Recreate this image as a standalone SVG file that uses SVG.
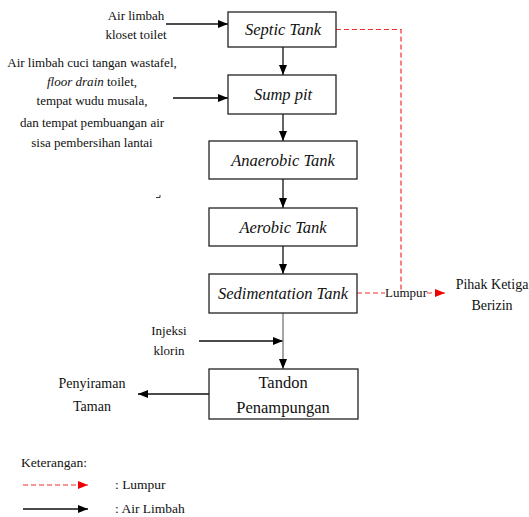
<svg xmlns="http://www.w3.org/2000/svg" width="529" height="517" viewBox="0 0 529 517">
<defs>
<marker id="ab" viewBox="0 0 10 10" refX="10" refY="5" markerWidth="10" markerHeight="10" markerUnits="userSpaceOnUse" orient="auto"><path d="M0,1 L10,5 L0,9 Z" fill="#000"/></marker>
<marker id="ar" viewBox="0 0 10 10" refX="10" refY="5" markerWidth="10" markerHeight="10" markerUnits="userSpaceOnUse" orient="auto"><path d="M0,1 L10,5 L0,9 Z" fill="#f00000"/></marker>
</defs>
<g id="connectors" fill="none">
<g stroke="#111" stroke-width="1.3">
<path d="M166,24 H228" marker-end="url(#ab)"/>
<path d="M173,98 H228" marker-end="url(#ab)"/>
<path d="M283,47 V75" marker-end="url(#ab)"/>
<path d="M283,114 V141" marker-end="url(#ab)"/>
<path d="M283,179 V208" marker-end="url(#ab)"/>
<path d="M283,246 V274" marker-end="url(#ab)"/>
<path d="M199,341 H283" marker-end="url(#ab)"/>
<path d="M209,394 H138" marker-end="url(#ab)"/>
</g>
<path d="M283,313 V369" stroke="#888" stroke-width="1.5" marker-end="url(#ab)"/>
<g stroke="#f03030" stroke-width="1.2" stroke-dasharray="5,3">
<path d="M336,29.5 H401 V293"/>
<path d="M357,293 H385"/>
<path d="M427,293 H445" marker-end="url(#ar)"/>
</g>
</g>
<g fill="#fff" stroke="#222" stroke-width="1.3">
<rect id="septic-box" x="228" y="12" width="108" height="35"/>
<rect id="sump-box" x="228" y="75" width="108" height="39"/>
<rect id="anaerobic-box" x="209" y="141" width="148" height="38"/>
<rect id="aerobic-box" x="209" y="208" width="148" height="38"/>
<rect id="sedimentation-box" x="209" y="274" width="148" height="39"/>
<rect id="tandon-box" x="209" y="369" width="149" height="50"/>
</g>
<g fill="#111" text-anchor="middle">
<g id="septic"><text font-family="Liberation Serif" font-size="20" font-style="italic" transform="translate(283,35) scale(0.825)">Septic Tank</text></g>
<g id="sump"><text font-family="Liberation Serif" font-size="20" font-style="italic" transform="translate(283,100) scale(0.825)">Sump pit</text></g>
<g id="anaerobic"><text font-family="Liberation Serif" font-size="20" font-style="italic" transform="translate(283,166) scale(0.825)">Anaerobic Tank</text></g>
<g id="aerobic"><text font-family="Liberation Serif" font-size="20" font-style="italic" transform="translate(283,233) scale(0.825)">Aerobic Tank</text></g>
<g id="sedimentation"><text font-family="Liberation Serif" font-size="20" font-style="italic" transform="translate(283,299) scale(0.825)">Sedimentation Tank</text></g>
<g id="tandon"><text font-family="Liberation Serif" font-size="20" transform="translate(283,388) scale(0.825)">Tandon</text><text font-family="Liberation Serif" font-size="20" transform="translate(283,413) scale(0.825)">Penampungan</text></g>
<g id="input1"><text font-family="Liberation Serif" font-size="14" transform="translate(136,20) scale(0.93)">Air limbah</text><text font-family="Liberation Serif" font-size="14" transform="translate(136,39) scale(0.93)">kloset toilet</text></g>
<g id="input2">
<text font-family="Liberation Serif" font-size="14" transform="translate(92,67) scale(0.93)">Air limbah cuci tangan wastafel,</text>
<text font-family="Liberation Serif" font-size="14" transform="translate(92,86) scale(0.93)"><tspan font-style="italic">floor drain</tspan> toilet,</text>
<text font-family="Liberation Serif" font-size="14" transform="translate(92,105) scale(0.93)">tempat wudu musala,</text>
<text font-family="Liberation Serif" font-size="14" transform="translate(92,127) scale(0.93)">dan tempat pembuangan air</text>
<text font-family="Liberation Serif" font-size="14" transform="translate(92,147) scale(0.93)">sisa pembersihan lantai</text>
</g>
<g id="injeksi"><text font-family="Liberation Serif" font-size="14" transform="translate(169,335) scale(0.93)">Injeksi</text><text font-family="Liberation Serif" font-size="14" transform="translate(169,355) scale(0.93)">klorin</text></g>
<g id="penyiraman"><text font-family="Liberation Serif" font-size="14" x="92" y="388">Penyiraman</text><text font-family="Liberation Serif" font-size="14" x="92" y="411">Taman</text></g>
<g id="pihak"><text font-family="Liberation Serif" font-size="14" x="492" y="289">Pihak Ketiga</text><text font-family="Liberation Serif" font-size="14" x="492" y="310">Berizin</text></g>
<g id="lumpur-label"><text font-family="Liberation Serif" font-size="14" transform="translate(406,297) scale(0.93)">Lumpur</text></g>
</g>
<path d="M156,197.5 H160 V195" fill="none" stroke="#333" stroke-width="1"/>
<g id="legend" fill="#111">
<text font-family="Liberation Serif" font-size="14" transform="translate(21,467) scale(0.965)">Keterangan:</text>
<path d="M23,485 H88" fill="none" stroke="#f03030" stroke-width="1.2" stroke-dasharray="5,3" marker-end="url(#ar)"/>
<path d="M23,509 H88" fill="none" stroke="#111" stroke-width="1.3" marker-end="url(#ab)"/>
<text font-family="Liberation Serif" font-size="14" transform="translate(115,489) scale(0.965)">: Lumpur</text>
<text font-family="Liberation Serif" font-size="14" transform="translate(115,513) scale(0.965)">: Air Limbah</text>
</g>
</svg>
